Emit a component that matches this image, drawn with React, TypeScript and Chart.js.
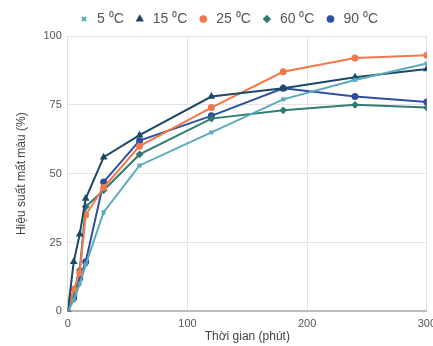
import React, { useEffect, useRef } from "react";
import { Chart, registerables } from "chart.js";

Chart.register(...registerables);

const times = [0, 5, 10, 15, 30, 60, 120, 180, 240, 300];
const seriesNames = ["5 ⁰C", "15 ⁰C", "25 ⁰C", "60 ⁰C", "90 ⁰C"];
const s5 = [0, 4, 10, 17, 36, 53, 65, 77, 84, 90];
const s15 = [0, 18, 28, 41, 56, 64, 78, 81, 85, 88];
const s25 = [0, 8, 14, 35, 45, 60, 74, 87, 92, 93];
const s60 = [0, 6, 15, 38, 44, 57, 70, 73, 75, 74];
const s90 = [0, 5, 12, 18, 47, 62, 71, 81, 78, 76];
const colors = ["#5aa9bd", "#1d4866", "#f2784b", "#2f7d72", "#2d4f9e"];
const pointStyles = ["crossRot", "triangle", "circle", "rectRot", "circle"];
const yTicks = [0, 25, 50, 75, 100];
const xTicks = [0, 100, 200, 300];

export default function App() {
  const ref = useRef<HTMLCanvasElement | null>(null);
  useEffect(() => {
    document.body.style.margin = "0";
    const all = [s5, s15, s25, s60, s90];
    const chart = new Chart(ref.current!, {
      type: "line",
      data: {
        datasets: all.map((vals, i) => ({
          label: seriesNames[i],
          data: vals.map((v, j) => ({ x: times[j], y: v })),
          borderColor: colors[i],
          backgroundColor: colors[i],
          pointStyle: pointStyles[i] as any,
          pointRadius: 2.5,
          borderWidth: 2,
          tension: 0,
        })),
      },
      options: {
        animation: false,
        responsive: false,
        maintainAspectRatio: false,
        layout: { padding: { left: 14, right: 0, top: 2, bottom: 1 } },
        plugins: {
          legend: {
            position: "top",
            labels: {
              usePointStyle: true,
              boxWidth: 12,
              boxHeight: 4,
              padding: 10,
              color: "#555",
              font: { family: "Liberation Sans, Arial", size: 14 },
            },
          },
          tooltip: { enabled: false },
        },
        scales: {
          x: {
            type: "linear",
            min: 0,
            max: 300,
            afterBuildTicks: (s: any) => {
              s.ticks = xTicks.map((v) => ({ value: v }));
            },
            grid: { color: "#e4e4e4", drawTicks: false },
            border: { color: "#bbb", width: 2 },
            ticks: {
              color: "#555",
              padding: 6,
              font: { family: "Liberation Sans, Arial", size: 11 },
            },
            title: {
              display: true,
              text: "Thời gian (phút)",
              color: "#444",
              padding: { top: -7, bottom: 1 },
              font: { family: "Liberation Sans, Arial", size: 12 },
            },
          },
          y: {
            min: 0,
            max: 100,
            afterBuildTicks: (s: any) => {
              s.ticks = yTicks.map((v) => ({ value: v }));
            },
            grid: { color: "#e4e4e4", drawTicks: false },
            border: { color: "#ddd" },
            ticks: {
              color: "#555",
              padding: 6,
              font: { family: "Liberation Sans, Arial", size: 11 },
            },
            title: {
              display: true,
              text: "Hiệu suất mất màu (%)",
              color: "#444",
              padding: { top: 0, bottom: 9 },
              font: { family: "Liberation Sans, Arial", size: 12 },
            },
          },
        },
      },
    });
    return () => chart.destroy();
  }, []);
  return (
    <div style={{ position: "absolute", left: 0, top: 0, width: 433, height: 346, overflow: "hidden", background: "#fff" }}>
      <canvas ref={ref} width={442} height={346} style={{ display: "block" }} />
    </div>
  );
}
